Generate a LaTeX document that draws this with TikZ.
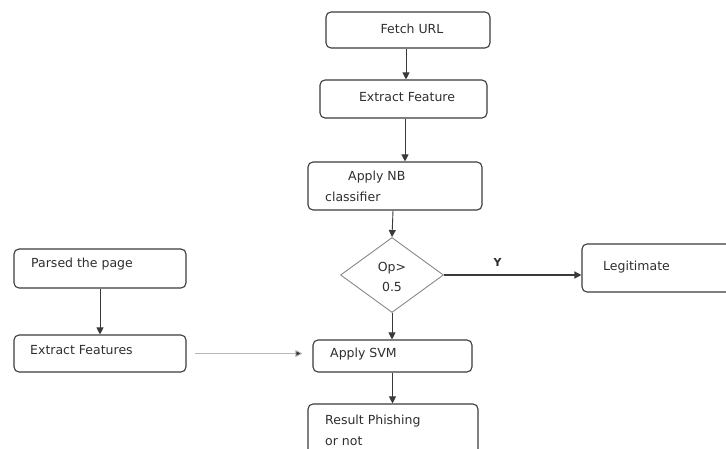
\documentclass[tikz,border=0pt]{standalone}
\usepackage{fontspec}
\setmainfont{DejaVu Sans}
\usetikzlibrary{shapes.geometric,arrows.meta}
\definecolor{edgegray}{HTML}{3A3A3A}
\definecolor{txtgray}{HTML}{2E2E2E}
\definecolor{lightline}{HTML}{B8B8B8}
\begin{document}
\begin{tikzpicture}[x=1pt,y=-1pt,
  box/.style={draw=edgegray,line width=1.1pt,rounded corners=5pt,inner sep=0pt,font=\fontsize{12.5}{15}\selectfont,text=txtgray},
  dia/.style={draw=edgegray!60,line width=0.9pt,diamond,aspect=1.37,inner sep=0pt},
  lbl/.style={inner sep=0pt,font=\fontsize{12.5}{15}\selectfont,text=txtgray},
  arr/.style={draw=edgegray,line width=0.9pt,-{Triangle[length=7pt,width=7pt]}},
  thinarr/.style={draw=lightline,line width=0.8pt,-{Triangle[length=7pt,width=7pt,fill=edgegray]}}]
\useasboundingbox (0,0) rectangle (726,449);
\clip (0,0) rectangle (726,449);
% boxes
\node[box,minimum width=164pt,minimum height=36pt] (fetch) at (408,30) {};
\node[lbl] (fetcht) at (412,29) {Fetch URL};
\node[box,minimum width=167pt,minimum height=38pt] (feat) at (403.5,99) {};
\node[lbl] (featt) at (407,97) {Extract Feature};
\node[box,minimum width=174pt,minimum height=48pt] (nb) at (395,186) {};
\node[lbl,anchor=west] (nbt1) at (348,177) {Apply NB};
\node[lbl,anchor=west] (nbt2) at (325,197) {classifier};
\node[dia,minimum width=103pt,minimum height=75pt] (dec) at (392,275) {};
\node[lbl] (dect1) at (392,268) {Op>};
\node[lbl] (dect2) at (392,287) {0.5};
\node[box,minimum width=178pt,minimum height=48pt] (legit) at (671,268) {};
\node[lbl,anchor=west] (legitt) at (603,267) {Legitimate};
\node[box,minimum width=172pt,minimum height=39pt] (parsed) at (100,268.5) {};
\node[lbl,anchor=west] (parsedt) at (31,264) {Parsed the page};
\node[box,minimum width=172pt,minimum height=37pt] (extf) at (100,353.5) {};
\node[lbl,anchor=west] (extft) at (30,350) {Extract Features};
\node[box,minimum width=159pt,minimum height=32pt] (svm) at (392.5,356) {};
\node[lbl,anchor=west] (svmt) at (330,354) {Apply SVM};
\node[box,minimum width=170pt,minimum height=66pt] (res) at (393,437) {};
\node[lbl,anchor=west] (rest1) at (325,421) {Result Phishing};
\node[lbl,anchor=west] (rest2) at (325,441) {or not};
% connectors
\draw[arr] ([xshift=-2pt]fetch.south) -- ([xshift=-2pt]fetch.south |- feat.north);
\draw[arr] ([xshift=1.5pt]feat.south) -- ([xshift=1.5pt]feat.south |- nb.north);
\draw[arr] ([xshift=-2pt]nb.south) -- (dec.north);
\draw[arr,line width=1.4pt] (dec.east) -- node[lbl,pos=0.39,above=8pt,font=\fontsize{11}{13}\selectfont\bfseries] (ylab) {Y} (dec.east -| legit.west);
\draw[arr] (dec.south) -- (dec.south |- svm.north);
\draw[arr] (parsed.south) -- (extf.north);
\draw[thinarr,shorten <=8pt,shorten >=10pt] (extf.east) -- (extf.east -| svm.west);
\draw[arr] (svm.south) -- (svm.south |- res.north);
\end{tikzpicture}
\end{document}
